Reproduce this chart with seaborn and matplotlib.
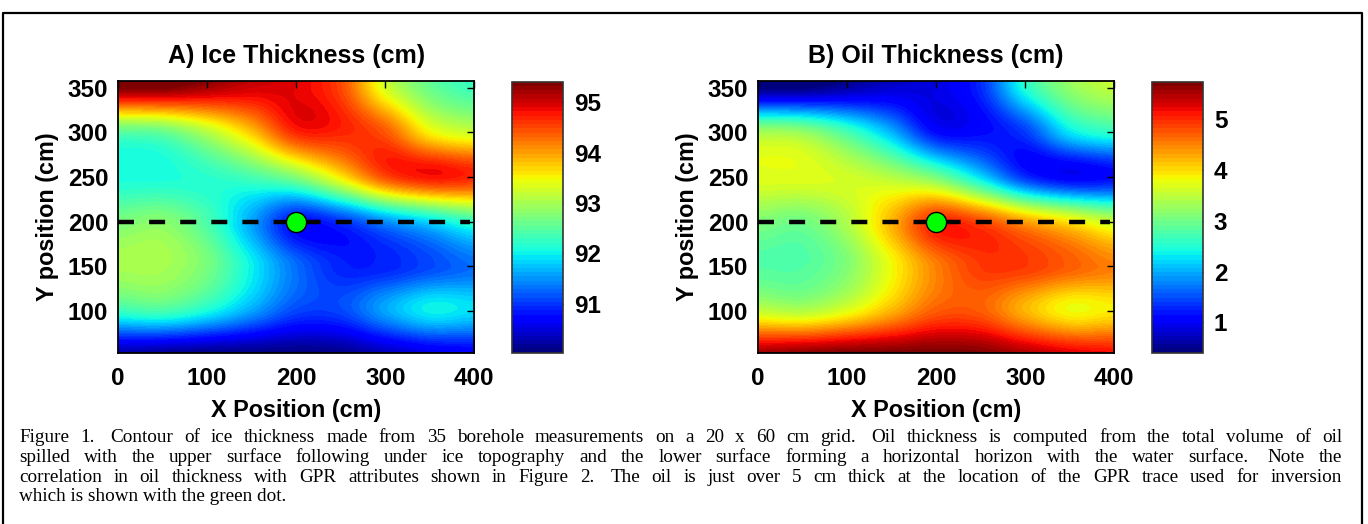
import numpy as np
import matplotlib
matplotlib.use("Agg")
import matplotlib.pyplot as plt
from matplotlib.lines import Line2D
import seaborn as sns

# Seaborn white theme, then MATLAB-like black text in Arial-style fonts
sns.set_theme(style="white")
plt.rcParams["font.family"] = ["Liberation Sans", "DejaVu Sans"]
plt.rcParams["text.color"] = "black"
plt.rcParams["axes.labelcolor"] = "black"
plt.rcParams["xtick.color"] = "black"
plt.rcParams["ytick.color"] = "black"

# ---- DATA ---- #
# Grid nodes (cm); rows listed from the top of the map (y = 350) down to y = 50
x_nodes = [0, 50, 100, 150, 200, 250, 300, 350, 400]
y_nodes = [350, 300, 250, 200, 150, 100, 50]

ice_thickness = [
    [95.40, 95.40, 95.20, 95.00, 94.90, 94.50, 93.30, 92.60, 92.30],
    [92.50, 92.60, 93.10, 93.80, 94.70, 94.70, 94.40, 93.50, 93.20],
    [92.10, 92.10, 92.20, 92.40, 92.80, 93.60, 94.50, 94.80, 94.70],
    [92.70, 92.80, 92.40, 91.60, 90.80, 91.00, 91.50, 91.90, 92.30],
    [93.00, 93.00, 92.70, 92.00, 91.30, 90.90, 90.90, 91.10, 91.30],
    [92.30, 92.40, 92.10, 91.60, 91.10, 91.10, 91.60, 92.00, 91.90],
    [90.20, 90.10, 90.05, 90.05, 90.05, 90.10, 90.30, 90.50, 90.60],
]

oil_thickness = [
    [0.41, 0.41, 0.61, 0.81, 0.91, 1.31, 2.51, 3.21, 3.51],
    [3.31, 3.21, 2.71, 2.01, 1.11, 1.11, 1.41, 2.31, 2.61],
    [3.71, 3.71, 3.61, 3.41, 3.01, 2.21, 1.31, 1.01, 1.11],
    [3.11, 3.01, 3.41, 4.21, 5.01, 4.81, 4.31, 3.91, 3.51],
    [2.81, 2.81, 3.11, 3.81, 4.51, 4.91, 4.91, 4.71, 4.51],
    [3.51, 3.41, 3.71, 4.21, 4.71, 4.71, 4.21, 3.81, 3.91],
    [5.61, 5.71, 5.76, 5.76, 5.76, 5.71, 5.51, 5.31, 5.21],
]

ice_range = (90.03, 95.41)
oil_range = (0.40, 5.74)
ice_ticks = [91, 92, 93, 94, 95]
oil_ticks = [1, 2, 3, 4, 5]
x_ticks = [0, 100, 200, 300, 400]
y_ticks = [100, 150, 200, 250, 300, 350]

# GPR transect and the trace used for inversion
transect_x = [0, 395]
transect_y = [200, 200]
gpr_x = [200]
gpr_y = [200]

titles = ["A) Ice Thickness (cm)", "B) Oil Thickness (cm)"]

caption_lines = [
    "Figure 1.  Contour of ice thickness made from 35 borehole measurements on a 20 x 60 cm grid.  "
    "Oil thickness is computed from the total volume of oil",
    "spilled with the upper surface following under ice topography and the lower surface forming "
    "a horizontal horizon with the water surface.  Note the",
    "correlation in oil thickness with GPR attributes shown in Figure 2.  The oil is just over 5 cm "
    "thick at the location of the GPR trace used for inversion",
    "which is shown with the green dot.",
]

# ---- FIGURE ---- #
W, H = 1368, 524
fig = plt.figure(figsize=(W / 100, H / 100), dpi=100)


def box(left, top, right, bottom):
    # pixel box -> figure fraction rect
    return [left / W, 1 - bottom / H, (right - left) / W, (bottom - top) / H]


cmap = matplotlib.colormaps["jet"].resampled(64)
dx = x_nodes[1] - x_nodes[0]
dy = y_nodes[0] - y_nodes[1]
extent = (min(x_nodes) - dx / 2, max(x_nodes) + dx / 2,
          min(y_nodes) - dy / 2, max(y_nodes) + dy / 2)

panels = [
    (ice_thickness, ice_range, ice_ticks, 0),
    (oil_thickness, oil_range, oil_ticks, 640),
]

for i, (grid, vrange, cticks, shift) in enumerate(panels):
    ax = fig.add_axes(box(118 + shift, 80.7, 474.3 + shift, 353.3))
    im = ax.imshow(np.array(grid), cmap=cmap, vmin=vrange[0], vmax=vrange[1],
                   extent=extent, origin="upper", interpolation="catrom", aspect="auto")
    ax.plot(transect_x, transect_y, color="black", linewidth=3.2, dashes=(3.6, 3.4))
    ax.plot(gpr_x, gpr_y, marker="o", markersize=14.5, color="#00ff00",
            markeredgecolor="black", markeredgewidth=1.0, linestyle="none")
    ax.set_xlim(0, 400)
    ax.set_ylim(52.5, 358)
    ax.set_xticks(x_ticks)
    ax.set_yticks(y_ticks)
    ax.tick_params(direction="in", top=True, right=True, length=5, width=1,
                   labelsize=17.5, pad=7)
    ax.tick_params(axis="x", pad=10)
    for lab in ax.get_xticklabels() + ax.get_yticklabels():
        lab.set_fontweight("bold")
    for sp in ax.spines.values():
        sp.set_color("black")
        sp.set_linewidth(1.3)
    ax.set_title(titles[i], fontsize=18, fontweight="bold", pad=13)
    ax.set_xlabel("X Position (cm)", fontsize=16.8, fontweight="bold", labelpad=6)
    ax.set_ylabel("Y position (cm)", fontsize=16.8, fontweight="bold", labelpad=6)

    # colorbar on the right
    cax = fig.add_axes(box(511.7 + shift, 81.7, 562.7 + shift, 352.7))
    cb = fig.colorbar(im, cax=cax, ticks=cticks)
    cb.outline.set_edgecolor("#333333")
    cb.outline.set_linewidth(1.2)
    cax.tick_params(direction="in", left=True, right=True, length=4, width=1,
                    labelsize=17.5, pad=8)
    for lab in cax.get_yticklabels():
        lab.set_fontweight("bold")

# ---- CAPTION (justified like the paper) ---- #
renderer = fig.canvas.get_renderer()
cap_left, cap_right = 19, 1342
cap_font = dict(fontsize=13.8, family=["Liberation Serif", "DejaVu Serif"],
                va="baseline", ha="left")

for i, line in enumerate(caption_lines):
    y = 1 - (442.5 + i * 19.5) / H
    if i == len(caption_lines) - 1:
        fig.text(cap_left / W, y, line, **cap_font)
        continue
    tokens = line.split(" ")
    words = [t for t in tokens if t]
    # count the spaces in each gap (double spaces after periods)
    gaps = []
    count = 0
    for t in tokens[1:]:
        count += 1
        if t:
            gaps.append(count)
            count = 0
    full = fig.text(0, y, line, **cap_font)
    full_w = full.get_window_extent(renderer).width
    full.remove()
    word_texts = [fig.text(0, y, w, **cap_font) for w in words]
    word_w = [t.get_window_extent(renderer).width for t in word_texts]
    space_w = (full_w - sum(word_w)) / sum(gaps)
    extra = ((cap_right - cap_left) - full_w) / len(gaps)
    xpos = cap_left
    for j, t in enumerate(word_texts):
        t.set_x(xpos / W)
        if j < len(gaps):
            xpos += word_w[j] + gaps[j] * space_w + extra

# ---- FRAME AROUND THE FIGURE ---- #
frame_x = [3 / W, 3 / W, 1362 / W, 1362 / W]
frame_y = [0, 1 - 12.5 / H, 1 - 12.5 / H, 0]
fig.add_artist(Line2D(frame_x, frame_y, color="black", linewidth=1.6))

plt.savefig("out.png", dpi=100)
